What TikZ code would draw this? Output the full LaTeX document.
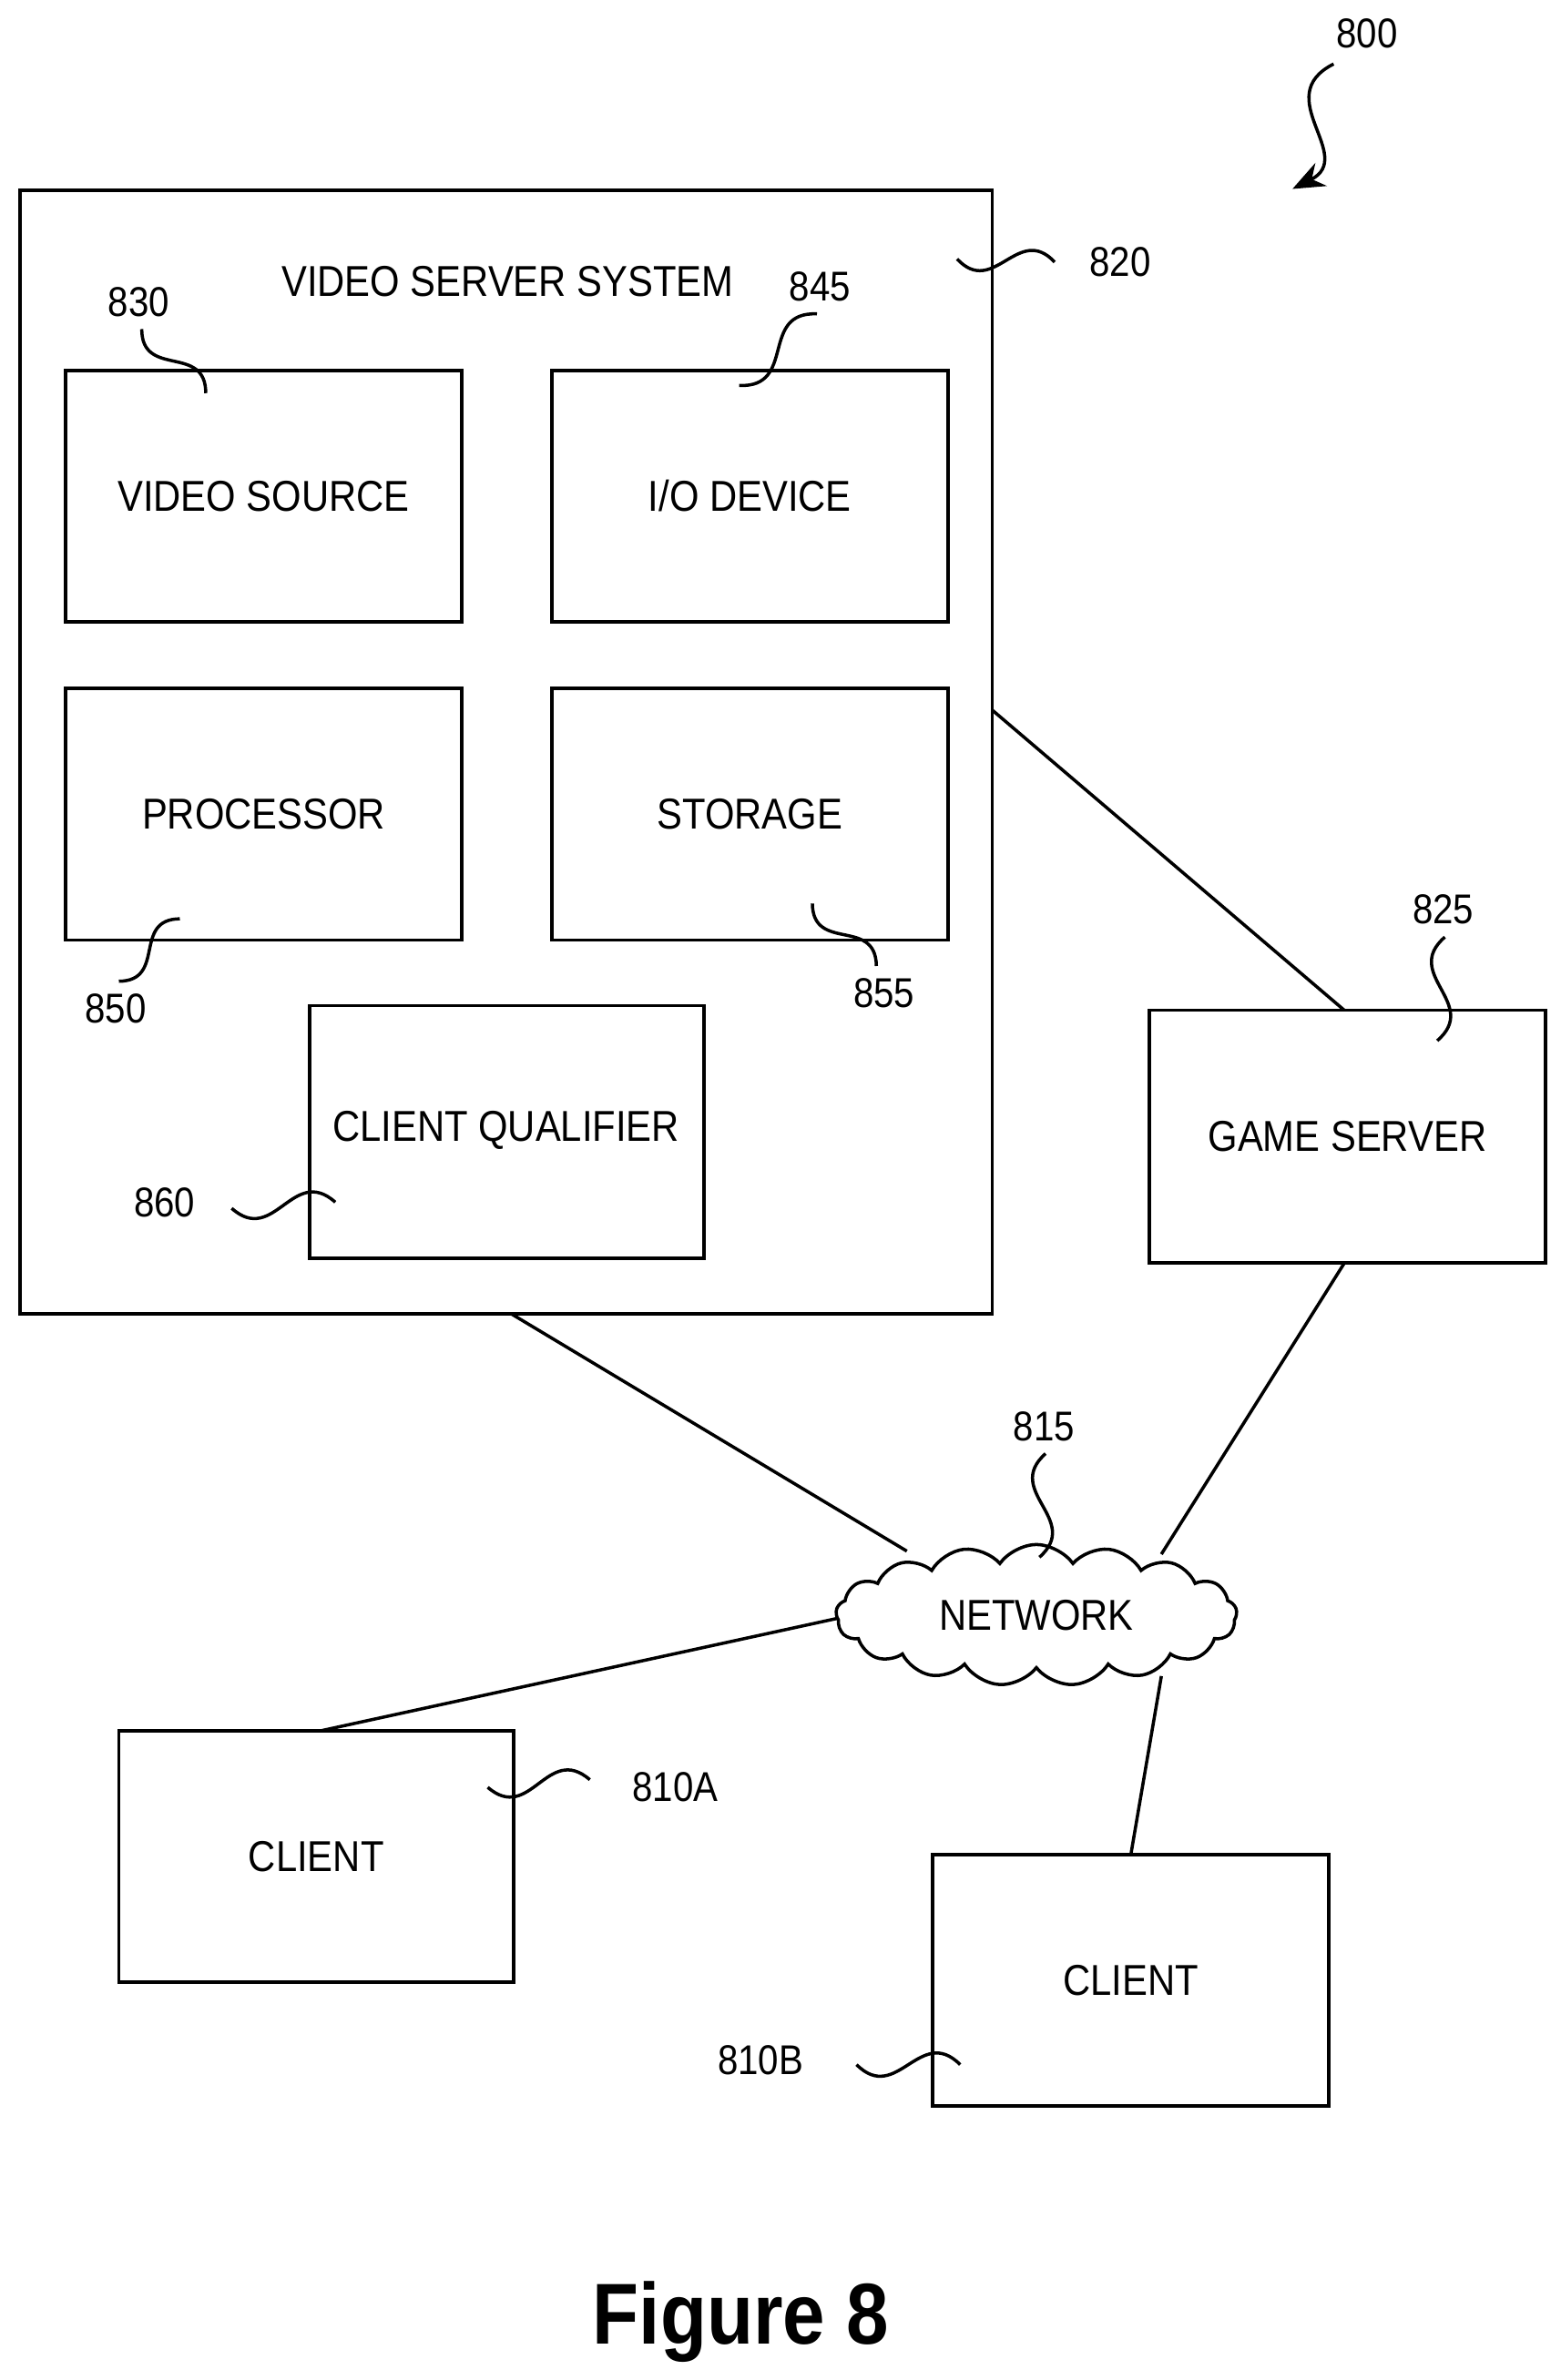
\documentclass[tikz,border=0pt]{standalone}
\usepackage{fontspec}
\setmainfont[FakeStretch=0.88]{Liberation Sans}
\usetikzlibrary{calc,shapes.symbols,arrows.meta}
\tikzset{
  blk/.style={draw,line width=1.1pt,inner sep=0pt},
  lbl/.style={font=\fontsize{13.5}{16}\selectfont},
  num/.style={font=\fontsize{13}{15}\selectfont}
}
\newcommand{\lead}[3][]{\draw[line width=1pt,#1] (#2) .. controls ($(#2)!0.55!-45:(#3)$) and ($(#3)!0.55!-45:(#2)$) .. (#3);}
\begin{document}
\begin{tikzpicture}[x=0.01673cm,y=-0.01673cm]
\useasboundingbox (0,0) rectangle (1024,1562);
% server side
\draw[blk] (13,125) rectangle (651,862);
\node[lbl] (vss) at (333,185) {VIDEO SERVER SYSTEM};
\draw[blk] (43,243) rectangle (303,408) node[lbl,midway] (vs) {VIDEO SOURCE};
\draw[blk] (362,243) rectangle (622,408) node[lbl,midway] (io) {I/O DEVICE};
\draw[blk] (43,452) rectangle (303,617) node[lbl,midway] (proc) {PROCESSOR};
\draw[blk] (362,452) rectangle (622,617) node[lbl,midway] (stor) {STORAGE};
\draw[blk] (203,660) rectangle (462,826);
\node[lbl] (cq) at (332,742) {CLIENT QUALIFIER};
\draw[blk] (754,663) rectangle (1014,829) node[lbl,midway] (gs) {GAME SERVER};
% network and clients
\node[cloud,draw,line width=1pt,cloud puffs=17,cloud puff arc=110,aspect=3.2,
  minimum width=4.4cm,minimum height=1.55cm,lbl] (net) at (680,1060) {NETWORK};
\draw[blk] (78,1136) rectangle (337,1301) node[lbl,midway] (ca) {CLIENT};
\draw[blk] (612,1217) rectangle (872,1382) node[lbl,midway] (cb) {CLIENT};
\draw[line width=1pt] (651,466) -- (882,663);
\draw[line width=1pt] (335,862) -- (595,1018);
\draw[line width=1pt] (882,829) -- (762,1020);
\draw[line width=1pt] (550,1062) -- (210,1136);
\draw[line width=1pt] (762,1100) -- (742,1217);
% reference numerals
\node[num] (n800) at (897,22) {800};
\node[num] (n820) at (735,172) {820};
\node[num] (n830) at (91,198) {830};
\node[num] (n845) at (538,188) {845};
\node[num] (n850) at (76,662) {850};
\node[num] (n855) at (580,652) {855};
\node[num] (n860) at (108,789) {860};
\node[num] (n825) at (947,597) {825};
\node[num] (n815) at (685,936) {815};
\node[num] (n810a) at (443,1173) {810A};
\node[num] (n810b) at (499,1352) {810B};
\coordinate (a800) at (875,42); \coordinate (b800) at (848,124);
\lead[-{Stealth[length=10pt,width=8pt]}]{a800}{b800}
\coordinate (a820) at (628,170); \coordinate (b820) at (692,172); \lead{a820}{b820}
\coordinate (a830) at (93,216); \coordinate (b830) at (135,258); \lead{a830}{b830}
\coordinate (a845) at (536,206); \coordinate (b845) at (485,253); \lead{a845}{b845}
\coordinate (a850) at (118,603); \coordinate (b850) at (78,644); \lead{a850}{b850}
\coordinate (a855) at (533,593); \coordinate (b855) at (575,634); \lead{a855}{b855}
\coordinate (a860) at (152,793); \coordinate (b860) at (220,789); \lead{a860}{b860}
\coordinate (a825) at (948,615); \coordinate (b825) at (943,683); \lead{a825}{b825}
\coordinate (a815) at (686,954); \coordinate (b815) at (682,1022); \lead{a815}{b815}
\coordinate (a810a) at (320,1173); \coordinate (b810a) at (387,1168); \lead{a810a}{b810a}
\coordinate (a810b) at (562,1355); \coordinate (b810b) at (630,1355); \lead{a810b}{b810b}
\node[font=\bfseries\fontsize{27}{30}\selectfont] (fig) at (486,1524) {Figure 8};
\end{tikzpicture}
\end{document}
